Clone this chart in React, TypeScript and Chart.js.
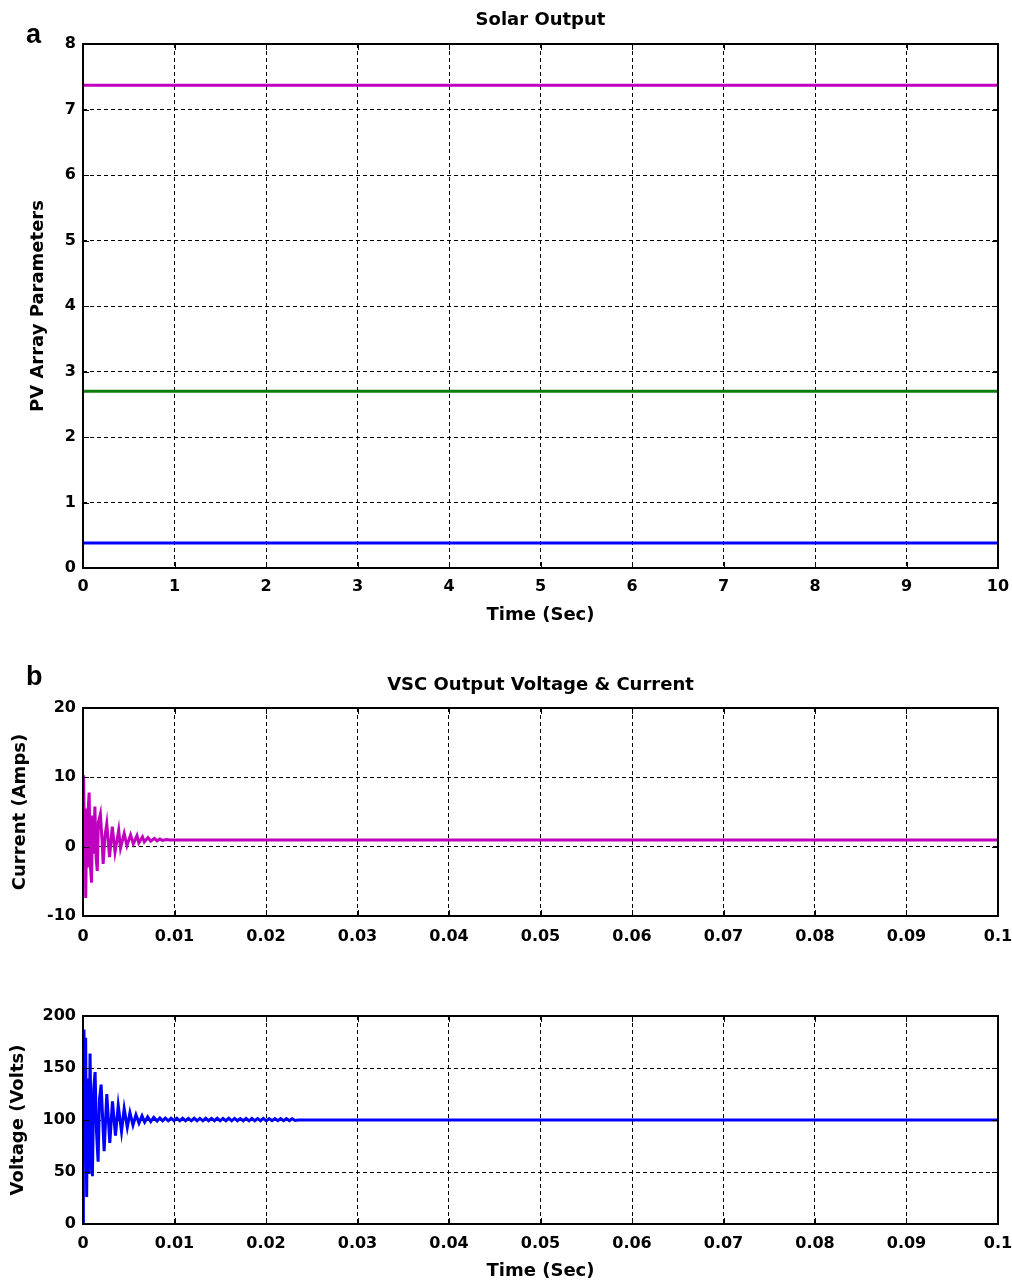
import React, { useEffect, useRef } from 'react';
import { Chart, registerables } from 'chart.js';

Chart.register(...registerables);

const FONT = '"DejaVu Sans", "Liberation Sans", Arial, sans-serif';

// ---------- Panel a: Solar Output ----------
const solarTime = [0, 10];
const solarMagenta = [7.37, 7.37];
const solarGreen = [2.7, 2.7];
const solarBlue = [0.38, 0.38];
const solarXTicks = ['0', '1', '2', '3', '4', '5', '6', '7', '8', '9', '10'];
const solarYTicks = ['0', '1', '2', '3', '4', '5', '6', '7', '8'];

// ---------- Panel b: VSC output current ----------
const currentTime = [
  0, 0.00007, 0.00018, 0.00024, 0.0003, 0.0004, 0.00048, 0.00055, 0.00067, 0.0008,
  0.00093, 0.00105, 0.00115, 0.0013, 0.00143, 0.00156, 0.00168, 0.0019, 0.0021, 0.0022,
  0.0024, 0.0026, 0.0029, 0.0032, 0.0035, 0.0039, 0.0041, 0.0045, 0.0048, 0.0052,
  0.0055, 0.0059, 0.0061, 0.0065, 0.0067, 0.0071, 0.0074, 0.0078, 0.0081, 0.0084,
  0.0087, 0.0091, 0.0095, 0.1,
];
const currentAmps = [
  0, 10.3, -2.0, 5.5, -7.4, 4.0, -3.0, 5.0, 7.8, -2.5,
  -5.2, 4.5, -1.0, 5.8, -1.5, -3.5, 3.5, 4.7, 0.5, -2.5,
  1.5, 3.3, -1.5, 2.9, -0.8, 2.4, -0.2, 1.9, 0.15, 1.7,
  0.4, 1.6, 0.55, 1.4, 0.7, 1.3, 0.8, 1.2, 0.85, 1.1,
  0.9, 1.02, 0.95, 0.95,
];

// ---------- Panel b: VSC output voltage ----------
const voltageTime = [
  0, 0.00004, 0.00011, 0.00022, 0.00029, 0.0004, 0.00051, 0.00066, 0.00077, 0.00092,
  0.00103, 0.00117, 0.00132, 0.00147, 0.00165, 0.0018, 0.00198, 0.00231, 0.0026, 0.00293,
  0.00322, 0.00355, 0.00385, 0.00421, 0.0045, 0.00484, 0.00513, 0.00546, 0.00579, 0.00612,
  0.00645, 0.00674, 0.00707, 0.0074, 0.00773, 0.0081, 0.0084, 0.0087,
  0.009, 0.00932, 0.00963, 0.00995, 0.01026, 0.01058, 0.01089, 0.01121, 0.01152, 0.01184,
  0.01215, 0.01247, 0.01278, 0.0131, 0.01341, 0.01373, 0.01404, 0.01436, 0.01467, 0.01499,
  0.0153, 0.01562, 0.01593, 0.01625, 0.01656, 0.01688, 0.01719, 0.01751, 0.01782, 0.01814,
  0.01845, 0.01877, 0.01908, 0.0194, 0.01971, 0.02003, 0.02034, 0.02066, 0.02097, 0.02129,
  0.0216, 0.02192, 0.02223, 0.02255, 0.02286, 0.02318, 0.0235, 0.1,
];
const voltageVolts = [
  0, 65, 187, 62, 179, 26, 140, 48, 164, 70,
  46, 130, 146, 90, 60, 120, 134, 70, 125, 78,
  118, 85, 114, 89, 111, 93, 107, 95, 105, 97,
  104, 98, 103, 98.5, 102.5, 99, 102, 99.2,
  101.8, 99.2, 101.6, 99.3, 101.7, 99.2, 101.6, 99.3, 101.5, 99.2,
  101.6, 99.3, 101.5, 99.2, 101.6, 99.3, 101.5, 99.3, 101.6, 99.2,
  101.5, 99.3, 101.6, 99.2, 101.5, 99.3, 101.4, 99.3, 101.5, 99.2,
  101.5, 99.3, 101.4, 99.3, 101.5, 99.2, 101.4, 99.3, 101.4, 99.3,
  101.3, 99.4, 101.3, 99.4, 101.2, 99.5, 100, 100,
];

const vscXTicks = ['0', '0.01', '0.02', '0.03', '0.04', '0.05', '0.06', '0.07', '0.08', '0.09', '0.1'];
const currentYTicks = ['-10', '0', '10', '20'];
const voltageYTicks = ['0', '50', '100', '150', '200'];

const MAGENTA = '#bf00bf';
const GREEN = '#0b7d0b';
const BLUE = '#0000ff';

const TICK_SIZE = 16;
const LABEL_SIZE = 18;

const pts = (xs: number[], ys: number[]) => xs.map((x, i) => ({ x, y: ys[i] }));

const framePlugin = {
  id: 'matlabFrame',
  afterDraw(chart: any, _args: any, opts: any) {
    const { ctx, chartArea: a, scales } = chart;
    const xs = scales.x;
    const ys = scales.y;
    const tl = 6;
    ctx.save();
    ctx.strokeStyle = '#000';
    ctx.lineWidth = 1;
    ctx.setLineDash([]);
    ctx.beginPath();
    xs.ticks.forEach((t: any) => {
      const px = Math.round(xs.getPixelForValue(t.value)) + 0.5;
      ctx.moveTo(px, a.bottom);
      ctx.lineTo(px, a.bottom - tl);
      ctx.moveTo(px, a.top);
      ctx.lineTo(px, a.top + tl);
    });
    ys.ticks.forEach((t: any) => {
      const py = Math.round(ys.getPixelForValue(t.value)) + 0.5;
      ctx.moveTo(a.left, py);
      ctx.lineTo(a.left + tl, py);
      ctx.moveTo(a.right, py);
      ctx.lineTo(a.right - tl, py);
    });
    ctx.stroke();
    ctx.lineWidth = 2;
    ctx.strokeRect(a.left, a.top, a.right - a.left, a.bottom - a.top);
    ctx.fillStyle = '#000';
    if (opts && opts.title) {
      ctx.font = `bold ${LABEL_SIZE}px ${FONT}`;
      ctx.textAlign = 'center';
      ctx.textBaseline = 'middle';
      ctx.fillText(opts.title, (a.left + a.right) / 2, opts.titleY);
    }
    if (opts && opts.letter) {
      ctx.font = `bold 27px "Liberation Sans", Arial, sans-serif`;
      ctx.textAlign = 'left';
      ctx.textBaseline = 'alphabetic';
      ctx.fillText(opts.letter, opts.lx, opts.ly);
    }
    ctx.restore();
  },
};

type Spec = {
  datasets: { data: { x: number; y: number }[]; color: string }[];
  xMin: number; xMax: number; xStep: number; xLabels: string[];
  yMin: number; yMax: number; yStep: number; yLabels: string[];
  yTitle: string; xTitle?: string; title?: string; titleY?: number;
  padLeft: number; padTop: number; xAxisH: number; xTickPad: number;
  letter?: string; letterY?: number;
};

function makeConfig(s: Spec): any {
  const tickFont = { family: FONT, size: TICK_SIZE, weight: 'bold' as const };
  const titleFont = { family: FONT, size: LABEL_SIZE, weight: 'bold' as const, lineHeight: 1.2 };
  return {
    type: 'line',
    data: {
      datasets: s.datasets.map((d) => ({
        data: d.data,
        borderColor: d.color,
        backgroundColor: d.color,
        borderWidth: 3,
        pointRadius: 0,
        tension: 0,
        fill: false,
      })),
    },
    options: {
      animation: false,
      responsive: false,
      parsing: false,
      layout: { padding: { left: s.padLeft, right: 14, top: s.padTop, bottom: 0 } },
      plugins: {
        legend: { display: false },
        tooltip: { enabled: false },
        title: { display: false },
        matlabFrame: {
          title: s.title,
          titleY: s.titleY,
          letter: s.letter,
          lx: 26,
          ly: s.letterY,
        },
      },
      scales: {
        x: {
          type: 'linear',
          min: s.xMin,
          max: s.xMax,
          ticks: {
            stepSize: s.xStep,
            autoSkip: false,
            maxRotation: 0,
            color: '#000',
            font: tickFont,
            padding: s.xTickPad,
            callback: (_v: any, i: number) => s.xLabels[i],
          },
          grid: { color: '#000', lineWidth: 1, drawTicks: false },
          border: { display: false, dash: [4, 3] },
          title: s.xTitle
            ? { display: true, text: s.xTitle, color: '#000', font: titleFont, padding: 0 }
            : { display: false },
          afterFit: (sc: any) => {
            sc.height = s.xAxisH;
            sc.paddingLeft = 0;
            sc.paddingRight = 0;
          },
        },
        y: {
          type: 'linear',
          min: s.yMin,
          max: s.yMax,
          ticks: {
            stepSize: s.yStep,
            autoSkip: false,
            color: '#000',
            font: tickFont,
            padding: 7,
            callback: (_v: any, i: number) => s.yLabels[i],
          },
          grid: { color: '#000', lineWidth: 1, drawTicks: false },
          border: { display: false, dash: [4, 3] },
          title: { display: true, text: s.yTitle, color: '#000', font: titleFont, padding: 0 },
          afterFit: (sc: any) => {
            sc.width = 83 - s.padLeft;
            sc.paddingTop = 0;
            sc.paddingBottom = 0;
          },
        },
      },
    },
    plugins: [framePlugin],
  };
}

function ChartCanvas({ spec, top, height }: { spec: Spec; top: number; height: number }) {
  const ref = useRef<HTMLCanvasElement | null>(null);
  useEffect(() => {
    if (!ref.current) return;
    const chart = new Chart(ref.current, makeConfig(spec));
    return () => chart.destroy();
  }, []);
  return (
    <canvas
      ref={ref}
      width={1012}
      height={height}
      style={{ position: 'absolute', left: 0, top, width: 1012, height }}
    />
  );
}

const specA: Spec = {
  datasets: [
    { data: pts(solarTime, solarMagenta), color: MAGENTA },
    { data: pts(solarTime, solarGreen), color: GREEN },
    { data: pts(solarTime, solarBlue), color: BLUE },
  ],
  xMin: 0, xMax: 10, xStep: 1, xLabels: solarXTicks,
  yMin: 0, yMax: 8, yStep: 1, yLabels: solarYTicks,
  yTitle: 'PV Array Parameters', xTitle: 'Time (Sec)', title: 'Solar Output', titleY: 20,
  padLeft: 28, padTop: 44, xAxisH: 58, xTickPad: 9,
  letter: 'a', letterY: 43,
};

const specB1: Spec = {
  datasets: [{ data: pts(currentTime, currentAmps), color: MAGENTA }],
  xMin: 0, xMax: 0.1, xStep: 0.01, xLabels: vscXTicks,
  yMin: -10, yMax: 20, yStep: 10, yLabels: currentYTicks,
  yTitle: 'Current (Amps)', title: 'VSC Output Voltage & Current', titleY: 35,
  padLeft: 10, padTop: 58, xAxisH: 40, xTickPad: 11,
  letter: 'b', letterY: 35,
};

const specB2: Spec = {
  datasets: [{ data: pts(voltageTime, voltageVolts), color: BLUE }],
  xMin: 0, xMax: 0.1, xStep: 0.01, xLabels: vscXTicks,
  yMin: 0, yMax: 200, yStep: 50, yLabels: voltageYTicks,
  yTitle: 'Voltage (Volts)', xTitle: 'Time (Sec)',
  padLeft: 8, padTop: 56, xAxisH: 58, xTickPad: 10,
};

export default function App() {
  return (
    <div style={{ position: 'absolute', left: 0, top: 0, width: 1012, height: 1283, background: '#fff' }}>
      <ChartCanvas spec={specA} top={0} height={626} />
      <ChartCanvas spec={specB1} top={650} height={306} />
      <ChartCanvas spec={specB2} top={960} height={322} />
    </div>
  );
}
